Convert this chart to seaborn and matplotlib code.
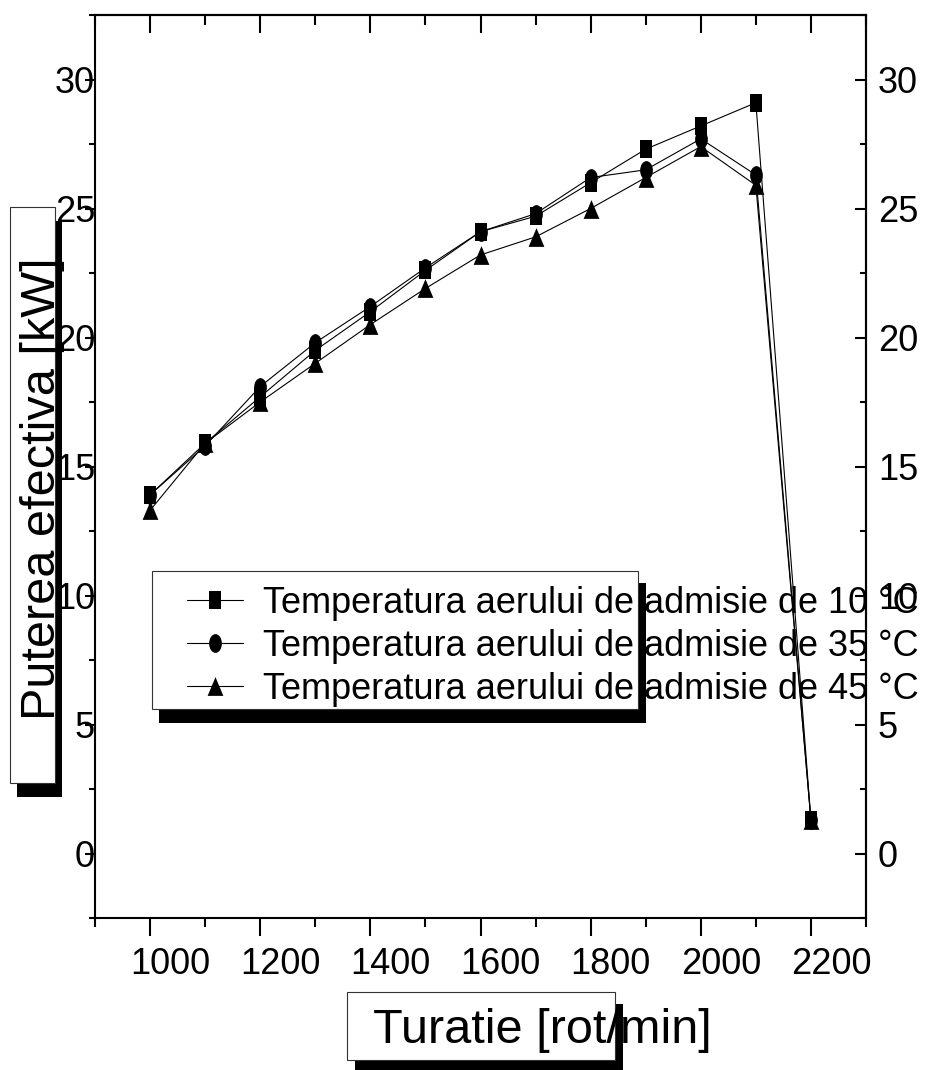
import numpy as np
import pandas as pd
import matplotlib
matplotlib.use("Agg")
import matplotlib.pyplot as plt
import seaborn as sns
from matplotlib.path import Path
from matplotlib.patches import Rectangle
from matplotlib.ticker import MultipleLocator
import matplotlib.transforms as mtransforms

# ---- data ----
rpm = [1000, 1100, 1200, 1300, 1400, 1500, 1600, 1700, 1800, 1900, 2000, 2100, 2200]
p_10 = [13.9, 15.9, 17.7, 19.5, 21.0, 22.6, 24.1, 24.7, 26.0, 27.3, 28.2, 29.1, 1.3]
p_35 = [13.9, 15.8, 18.1, 19.8, 21.2, 22.7, 24.1, 24.8, 26.2, 26.5, 27.7, 26.3, 1.3]
p_45 = [13.3, 15.9, 17.5, 19.0, 20.5, 21.9, 23.2, 23.9, 25.0, 26.2, 27.4, 25.9, 1.3]
labels = ["Temperatura aerului de admisie de 10 °C",
          "Temperatura aerului de admisie de 35 °C",
          "Temperatura aerului de admisie de 45 °C"]
x_ticks = [1000, 1200, 1400, 1600, 1800, 2000, 2200]
y_ticks = [0, 5, 10, 15, 20, 25, 30]
x_label = "Turatie [rot/min]"
y_label = "Puterea efectiva [kW]"

sns.set_style("white")
plt.rcParams["font.family"] = ["Liberation Sans", "DejaVu Sans"]
plt.rcParams["text.color"] = "black"
plt.rcParams["xtick.color"] = "black"
plt.rcParams["ytick.color"] = "black"
plt.rcParams["xtick.labelcolor"] = "black"
plt.rcParams["ytick.labelcolor"] = "black"

W, H = 930, 1070
fig = plt.figure(figsize=(W / 100, H / 100), dpi=100)
fx = lambda px: px / W
fy = lambda py: 1 - py / H

ax = fig.add_axes([fx(95), fy(918), (866 - 95) / W, (918 - 15) / H])

# markers: taller than wide (as in the reference)
sq = Path([(-0.33, -0.5), (0.33, -0.5), (0.33, 0.5), (-0.33, 0.5), (-0.33, -0.5)],
          [Path.MOVETO, Path.LINETO, Path.LINETO, Path.LINETO, Path.CLOSEPOLY])
circ = mtransforms.Affine2D().scale(0.34, 0.5).transform_path(Path.unit_circle())
tri = Path([(-0.42, -0.5), (0.42, -0.5), (0.0, 0.5), (-0.42, -0.5)],
           [Path.MOVETO, Path.LINETO, Path.LINETO, Path.CLOSEPOLY])

series = [p_10, p_35, p_45]
markers = [sq, circ, tri]
msizes = [13, 13.5, 13.5]
for vals, mk, ms, lab in zip(series, markers, msizes, labels):
    df = pd.DataFrame({"rpm": rpm, "P": vals})
    sns.lineplot(data=df, x="rpm", y="P", ax=ax, color="black", lw=0.8,
                 marker=mk, markersize=ms, markeredgecolor="black",
                 markeredgewidth=0, markerfacecolor="black", label=lab)
handles = ax.get_lines()[:3]
ax.set_xlabel("")
ax.set_ylabel("")

ax.set_xlim(900, 2300)
ax.set_ylim(-2.5, 32.5)
ax.set_xticks(x_ticks)
ax.set_yticks(y_ticks)
ax.xaxis.set_minor_locator(MultipleLocator(100))
ax.yaxis.set_minor_locator(MultipleLocator(2.5))
for s in ax.spines.values():
    s.set_linewidth(1.5)
    s.set_color("black")

ax.tick_params(axis="x", which="major", direction="out", length=13, width=1.5,
               labelsize=26, pad=8, bottom=True, top=False, colors="black")
ax.tick_params(axis="x", which="minor", direction="out", length=6.5, width=1.5,
               bottom=True, top=False, colors="black")
ax.tick_params(axis="y", which="major", direction="out", length=7, width=1.5,
               labelsize=26, pad=-7, left=True, right=False, colors="black")
ax.tick_params(axis="y", which="minor", direction="out", length=4.5, width=1.5,
               left=True, right=False, colors="black")

offset = mtransforms.ScaledTranslation(20 / 100, 0, fig.dpi_scale_trans)
for lab in ax.get_xticklabels():
    lab.set_transform(lab.get_transform() + offset)

secx = ax.secondary_xaxis("top")
secx.set_xticks(x_ticks)
secx.xaxis.set_minor_locator(MultipleLocator(100))
secx.tick_params(axis="x", which="major", direction="in", length=13, width=1.5,
                 labeltop=False, colors="black")
secx.tick_params(axis="x", which="minor", direction="in", length=7, width=1.5,
                 colors="black")
secx.spines["top"].set_linewidth(1.5)
secx.spines["top"].set_color("black")

secy = ax.secondary_yaxis("right")
secy.set_yticks(y_ticks)
secy.yaxis.set_minor_locator(MultipleLocator(2.5))
secy.tick_params(axis="y", which="major", direction="in", length=8, width=1.5,
                 labelsize=26, pad=8.5, colors="black")
secy.tick_params(axis="y", which="minor", direction="in", length=4.5, width=1.5,
                 colors="black")
secy.spines["right"].set_linewidth(1.5)
secy.spines["right"].set_color("black")


def rect(x0, y0, x1, y1, fc, ec="none", lw=0, z=5):
    fig.add_artist(Rectangle((fx(x0), fy(y1)), (x1 - x0) / W, (y1 - y0) / H,
                             transform=fig.transFigure, facecolor=fc,
                             edgecolor=ec, lw=lw, zorder=z))

# y-label box
rect(17, 221, 62, 797, "black", z=5)
rect(10, 207, 55, 783, "white", "#333333", 0.8, z=6)
fig.text(fx(55), fy(489), y_label, rotation=90, rotation_mode="anchor",
         ha="center", va="baseline", fontsize=35, color="black", zorder=7)

# x-label box
rect(355, 1004, 623, 1075, "black", z=5)
rect(347, 992, 615, 1060, "white", "#333333", 0.8, z=6)
fig.text(fx(542), fy(1043), x_label, ha="center", va="baseline",
         fontsize=35, color="black", zorder=7)

# legend box
rect(159, 583, 646, 723, "black", z=5)
rect(152, 571, 638, 709, "white", "#333333", 0.8, z=6)
leg = ax.legend(handles, labels, loc="upper left",
                bbox_to_anchor=(fx(187), fy(586)), bbox_transform=fig.transFigure,
                frameon=False, fontsize=26, borderpad=0, borderaxespad=0,
                handlelength=1.55, handletextpad=0.56, labelspacing=0.22)
for t in leg.get_texts():
    t.set_color("black")
leg.remove()
fig.add_artist(leg)
leg.set_zorder(8)

fig.savefig("out.png", dpi=100)
